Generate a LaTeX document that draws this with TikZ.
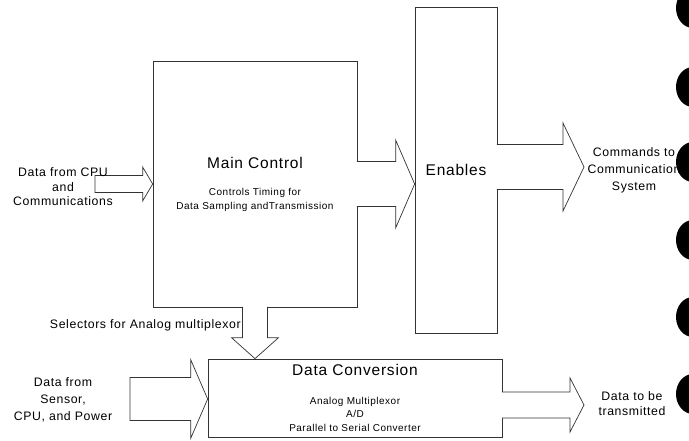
\documentclass[tikz,border=0pt]{standalone}
\usepackage{fontspec}
\setmainfont[LetterSpace=5]{Liberation Sans}
\usetikzlibrary{calc}

\newcommand\ttl{\fontsize{15.5}{18}\selectfont}
% outline of a block arrow: #1 shaft half width, #2 head half width, #3 head length
\newcommand\fatpath[3]{($(\tikztostart)!#1!90:(\tikztotarget)$)
  -- ($(\tikztotarget)!#3!(\tikztostart)!#1!90:(\tikztotarget)$)
  -- ($(\tikztotarget)!#3!(\tikztostart)!#2!90:(\tikztotarget)$)
  -- (\tikztotarget)
  -- ($(\tikztotarget)!#3!(\tikztostart)!#2!-90:(\tikztotarget)$)
  -- ($(\tikztotarget)!#3!(\tikztostart)!#1!-90:(\tikztotarget)$)
  -- ($(\tikztostart)!#1!-90:(\tikztotarget)$)}

\tikzset{
  box/.style={draw=black!80, line width=0.7pt, inner sep=0pt, align=center,
    font=\fontsize{10}{13.5}\selectfont},
  lbl/.style={align=center, inner sep=0pt, font=\fontsize{12.3}{14.5}\selectfont},
  arrowline/.style={draw=black!80, line width=0.7pt, fill=white, line join=miter},
  fat arrow/.style n args={3}{to path={\fatpath{#1}{#2}{#3}}},
  fat arrow closed/.style n args={3}{to path={\fatpath{#1}{#2}{#3} -- cycle}},
}

\begin{document}
\begin{tikzpicture}[x=1pt, y=-1pt]
  \useasboundingbox (0,0) rectangle (689,440);
  % the three blocks
  \node[box, minimum width=204pt, minimum height=246pt] (main) at (255,184)
    {{\ttl Main Control}\\[14pt]Controls Timing for\\Data Sampling andTransmission};
  \node[box, minimum width=82pt, minimum height=326pt] (enables) at (456,170) {\ttl Enables};
  \node[box, minimum width=294pt, minimum height=78pt] (conv) at (355,398)
    {{\ttl Data Conversion}\\[15pt]Analog Multiplexor\\A/D\\Parallel to Serial Converter};

  % free ends of the arrows
  \coordinate (cpu) at (95,184);
  \coordinate (sensor) at (130,399);
  \coordinate (cmd) at (584,167);
  \coordinate (out) at (584,405);

  % block arrows
  \draw[arrowline] (cpu) to[fat arrow closed={8.5pt}{17pt}{10pt}] (main.west);
  \draw[arrowline] ([xshift=-.6pt]main.east) to[fat arrow={22.5pt}{44pt}{19pt}] (enables.west |- main.east);
  \draw[arrowline] ([xshift=-.6pt]enables.east |- cmd) to[fat arrow={22.5pt}{44pt}{21pt}] (cmd);
  \draw[arrowline] ([yshift=.6pt]main.south) to[fat arrow={12.5pt}{23.5pt}{21pt}] (main.south |- conv.north);
  \draw[arrowline] (sensor) to[fat arrow closed={21.5pt}{39.5pt}{17pt}] (conv.west |- sensor);
  \draw[arrowline] ([xshift=-.6pt]conv.east |- out) to[fat arrow={13pt}{27pt}{14pt}] (out);

  % labels
  \node[lbl] (cpulbl) at (63,187) {Data from CPU\\and\\Communications};
  \node[lbl, anchor=east] (sellbl) at (241,325) {Selectors for Analog multiplexor};
  \node[lbl] (sensorlbl) at (63,400) {Data from\\[2.5pt]Sensor,\\[2.5pt]CPU, and Power};
  \node[lbl] (cmdlbl) at (634,170) {Commands to\\[2.5pt]Communication\\[2.5pt]System};
  \node[lbl] (outlbl) at (632,404) {Data to be\\[.5pt]transmitted};

  % punched holes along the right edge
  \begin{scope}
    \clip (0,0) rectangle (689,440);
    \foreach \y in {8,87,162,240,317,394}
      \fill (693,\y) ellipse (17 and 20);
  \end{scope}
\end{tikzpicture}
\end{document}
